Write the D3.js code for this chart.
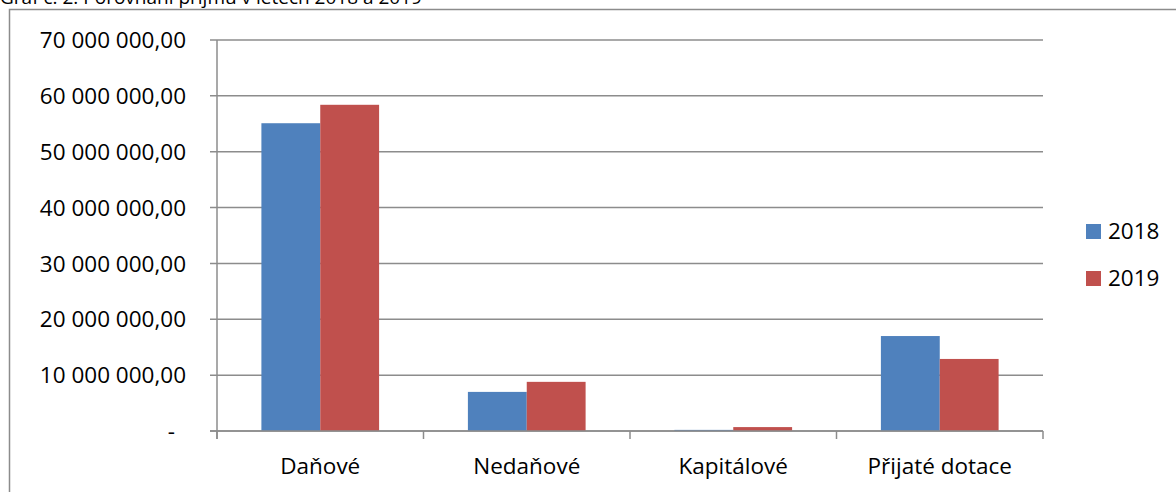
<!DOCTYPE html>
<html>
<head>
<meta charset="utf-8">
<script src="https://cdn.jsdelivr.net/npm/d3@7"></script>
<style>
  body { margin: 0; background: #fff; }
  svg { display: block; }
</style>
</head>
<body>
<script>
// Data
const categories = ["Daňové", "Nedaňové", "Kapitálové", "Přijaté dotace"];
const years = ["2018", "2019"];
const values2018 = [55100000, 7000000, 200000, 17000000];
const values2019 = [58400000, 8800000, 700000, 12900000];
const yTicks = [0, 10000000, 20000000, 30000000, 40000000, 50000000, 60000000, 70000000];
const colors = ["#4F81BD", "#C0504D"];

const width = 1176, height = 492;
const margin = {top: 40, right: 133, bottom: 61, left: 217};
const font = "'Open Sans', sans-serif";
const fs = 22.5;

const svg = d3.select("body").append("svg")
    .attr("width", width)
    .attr("height", height);

// title, cut off at the top edge like in the original
svg.append("text")
    .attr("x", 0)
    .attr("y", 4)
    .attr("font-family", font)
    .attr("font-size", 19)
    .attr("fill", "#000")
    .text("Graf č. 2: Porovnání příjmů v letech 2018 a 2019");

// chart area border
svg.append("rect")
    .attr("x", 9.5).attr("y", 9.5)
    .attr("width", width + 20).attr("height", height + 20)
    .attr("fill", "none")
    .attr("stroke", "#8c8c8c")
    .attr("stroke-width", 1.5);

const x0 = d3.scaleBand()
    .domain(categories)
    .range([margin.left, width - margin.right])
    .paddingInner(0.43)
    .paddingOuter(0.215);

const x1 = d3.scaleBand()
    .domain(years)
    .range([0, x0.bandwidth()]);

const y = d3.scaleLinear()
    .domain([0, 70000000])
    .range([height - margin.bottom, margin.top]);

const fmt = v => v === 0 ? "-" : d3.format(",.2f")(v).replace(/,/g, " ").replace(".", ",");

// gridlines
svg.append("g")
    .selectAll("line")
    .data(yTicks)
    .join("line")
    .attr("x1", margin.left - 7)
    .attr("x2", width - margin.right)
    .attr("y1", d => y(d))
    .attr("y2", d => y(d))
    .attr("stroke", "#8c8c8c")
    .attr("stroke-width", 1.5);

// y labels
svg.append("g")
    .selectAll("text")
    .data(yTicks)
    .join("text")
    .attr("x", d => d === 0 ? 175 : 186)
    .attr("y", d => y(d))
    .attr("dy", "0.36em")
    .attr("text-anchor", "end")
    .attr("font-family", font)
    .attr("font-size", fs)
    .attr("fill", "#000")
    .text(fmt);

// bars
const series = [values2018, values2019];
svg.append("g")
    .selectAll("g")
    .data(categories)
    .join("g")
    .attr("transform", d => `translate(${x0(d)},0)`)
    .selectAll("rect")
    .data((d, i) => years.map((yr, j) => ({yr, v: series[j][i], c: colors[j]})))
    .join("rect")
    .attr("x", d => x1(d.yr))
    .attr("width", x1.bandwidth())
    .attr("y", d => y(d.v))
    .attr("height", d => y(0) - y(d.v))
    .attr("fill", d => d.c);

// axes lines
svg.append("line")
    .attr("x1", margin.left).attr("x2", margin.left)
    .attr("y1", margin.top).attr("y2", y(0) + 8)
    .attr("stroke", "#8c8c8c").attr("stroke-width", 1.5);

svg.append("line")
    .attr("x1", margin.left - 7).attr("x2", width - margin.right)
    .attr("y1", y(0)).attr("y2", y(0))
    .attr("stroke", "#8c8c8c").attr("stroke-width", 1.5);

// category ticks
const step = x0.step();
svg.append("g")
    .selectAll("line")
    .data(d3.range(categories.length + 1))
    .join("line")
    .attr("x1", i => margin.left + i * step)
    .attr("x2", i => margin.left + i * step)
    .attr("y1", y(0))
    .attr("y2", y(0) + 8)
    .attr("stroke", "#8c8c8c").attr("stroke-width", 1.5);

// category labels
svg.append("g")
    .selectAll("text")
    .data(categories)
    .join("text")
    .attr("x", d => x0(d) + x0.bandwidth() / 2)
    .attr("y", 474)
    .attr("text-anchor", "middle")
    .attr("font-family", font)
    .attr("font-size", fs)
    .attr("fill", "#000")
    .text(d => d);

// legend
const legend = svg.append("g")
    .selectAll("g")
    .data(years)
    .join("g")
    .attr("transform", (d, i) => `translate(1086,${224 + i * 47})`);

legend.append("rect")
    .attr("width", 15).attr("height", 15)
    .attr("fill", (d, i) => colors[i]);

legend.append("text")
    .attr("x", 22)
    .attr("y", 15)
    .attr("font-family", font)
    .attr("font-size", fs)
    .attr("fill", "#000")
    .text(d => d);
</script>
</body>
</html>
